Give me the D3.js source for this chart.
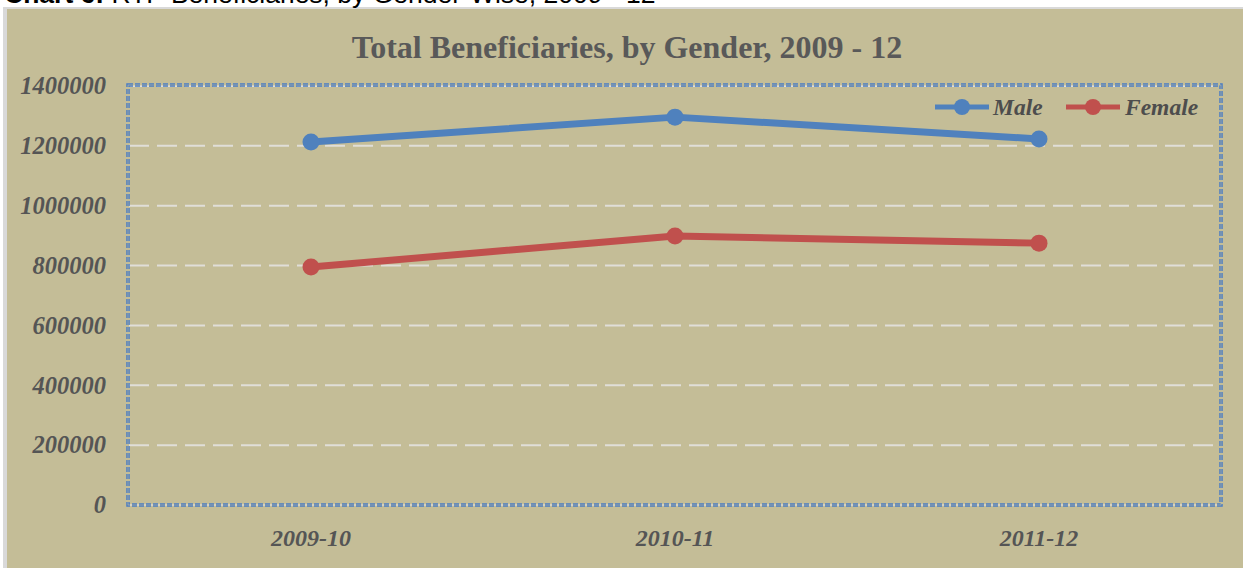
<!DOCTYPE html>
<html><head><meta charset="utf-8">
<script src="https://cdn.jsdelivr.net/npm/d3@7"></script>
<style>body{margin:0;background:#fff;overflow:hidden}</style>
</head><body>
<svg id="c" width="1243" height="568"></svg>
<script>
const categories = ["2009-10","2010-11","2011-12"];
const maleValues = [1213000, 1296000, 1223000];
const femaleValues = [795000, 899000, 875000];
const yTicks = [0,200000,400000,600000,800000,1000000,1200000,1400000];
const seriesNames = ["Male","Female"];
const colors = {Male:"#4F81BD", Female:"#C0504D"};

const svg = d3.select("#c");
svg.append("rect").attr("x",3).attr("y",7).attr("width",1245).attr("height",570).attr("fill","#D9D9D9");
svg.append("rect").attr("x",7).attr("y",9).attr("width",1240).attr("height",565).attr("fill","#C4BD97");
svg.append("text").attr("x",4).attr("y",3).attr("font-family","Liberation Sans, Arial").attr("font-size",26.5).attr("fill","#000")
  .html('<tspan font-weight="bold">Chart 6:</tspan> RTP Beneficiaries, by Gender-Wise, 2009 - 12');

const L=129, R=1221, T=86, B=505;
const x = d3.scaleBand().domain(categories).range([L,R]);
const y = d3.scaleLinear().domain([0,1400000]).range([B,T]);

svg.append("text").attr("x",627).attr("y",58).attr("text-anchor","middle")
  .attr("font-family","Liberation Serif, Times New Roman").attr("font-weight","bold").attr("font-size",32).attr("fill","#595959")
  .text("Total Beneficiaries, by Gender, 2009 - 12");

svg.append("g").selectAll("line").data(yTicks.filter(d=>d>0)).join("line")
  .attr("x1",L).attr("x2",R).attr("y1",d=>y(d)).attr("y2",d=>y(d))
  .attr("stroke","#E0DED8").attr("stroke-width",2).attr("stroke-dasharray","20,8");
svg.append("line").attr("x1",L).attr("x2",R).attr("y1",B).attr("y2",B).attr("stroke","#E0DED8").attr("stroke-width",2);

svg.append("rect").attr("x",L-1).attr("y",T-1).attr("width",R-L+1).attr("height",B-T+1)
  .attr("fill","none").attr("stroke","#4A7CC4").attr("stroke-width",3.5).attr("stroke-dasharray","5,2");
svg.append("rect").attr("x",L-1).attr("y",T-1).attr("width",R-L+1).attr("height",B-T+1)
  .attr("fill","none").attr("stroke","#C4BD97").attr("stroke-width",0.7);

const yAxis = d3.axisLeft(y).tickValues(yTicks).tickSize(0).tickPadding(0).tickFormat(d=>String(d));
const ya = svg.append("g").attr("transform",`translate(106,0)`).call(yAxis);
ya.select(".domain").remove();
ya.selectAll("text").attr("font-family","Liberation Serif, Times New Roman").attr("font-weight","bold")
  .attr("font-style","italic").attr("font-size",24.5).attr("fill","#555555").attr("dy","0.32em");

const xAxis = d3.axisBottom(x).tickSize(0).tickPadding(0);
const xa = svg.append("g").attr("transform",`translate(0,538)`).call(xAxis);
xa.select(".domain").remove();
xa.selectAll("text").attr("font-family","Liberation Serif, Times New Roman").attr("font-weight","bold")
  .attr("font-style","italic").attr("font-size",24).attr("fill","#555555").attr("dy","0.32em");

const cx = d => x(d)+x.bandwidth()/2;
const data = {Male:maleValues, Female:femaleValues};
const line = d3.line().x(d=>cx(d.c)).y(d=>y(d.v));
seriesNames.forEach(s=>{
  const pts = categories.map((c,i)=>({c, v:data[s][i]}));
  svg.append("path").datum(pts).attr("d",line).attr("fill","none").attr("stroke",colors[s]).attr("stroke-width",7).attr("stroke-linejoin","round");
  svg.append("g").selectAll("circle").data(pts).join("circle").attr("cx",d=>cx(d.c)).attr("cy",d=>y(d.v)).attr("r",8.5).attr("fill",colors[s]);
});

const leg = [{s:"Male",x0:935,tx:993},{s:"Female",x0:1066,tx:1125}];
leg.forEach(l=>{
  const g = svg.append("g");
  g.append("line").attr("x1",l.x0).attr("x2",l.x0+54).attr("y1",107).attr("y2",107).attr("stroke",colors[l.s]).attr("stroke-width",5);
  g.append("circle").attr("cx",l.x0+27).attr("cy",107).attr("r",8).attr("fill",colors[l.s]);
  g.append("text").attr("x",l.tx).attr("y",107).attr("dy","0.35em").attr("font-family","Liberation Serif, Times New Roman")
    .attr("font-weight","bold").attr("font-style","italic").attr("font-size",23.5).attr("fill","#4D4D4D").text(l.s);
});
</script>
</body></html>
